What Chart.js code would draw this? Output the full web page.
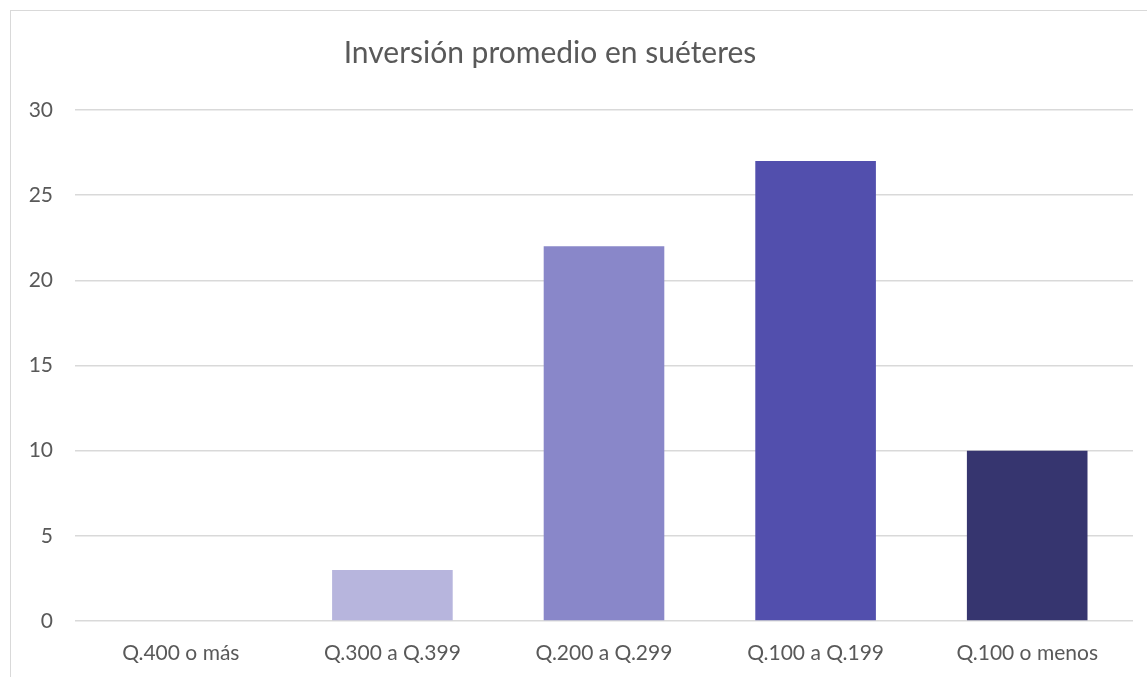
<!DOCTYPE html>
<html>
<head>
<meta charset="utf-8">
<title>Inversión promedio en suéteres</title>
<script src="https://cdn.jsdelivr.net/npm/chart.js@4/dist/chart.umd.min.js"></script>
<style>
  html, body { margin: 0; padding: 0; background: #fff; overflow: hidden; }
  #frame {
    position: absolute; left: 10px; top: 10px;
    width: 1150px; height: 680px;
    border: 1.5px solid #D9D9D9;
  }
  #wrap { position: absolute; left: 0; top: 0; width: 1147px; height: 677px; }
</style>
</head>
<body>
<div id="frame"></div>
<div id="wrap"><canvas id="sweater-chart"></canvas></div>
<script>
// spending ranges and how many answered each one
var categories = ["Q.400 o más", "Q.300 a Q.399", "Q.200 a Q.299", "Q.100 a Q.199", "Q.100 o menos"];
var counts = [0, 3, 22, 27, 10];
var barColors = ['#B7B5DD', '#B7B5DD', '#8987C9', '#524FAD', '#36356F'];
var yTicks = [0, 5, 10, 15, 20, 25, 30];

var textGray = '#595959';
var fontName = 'Lato, "Open Sans", sans-serif';

// title sits a bit left of the plot centre
var titleShift = {
    id: 'titleShift',
    afterLayout: function(chart) {
        var t = chart.titleBlock;
        if (t) {
            t.left = 0;
            t.right = 1100;
            t.width = 1100;
        }
    }
};

var ctx = document.getElementById('sweater-chart').getContext('2d');

var sweaterChart = new Chart(ctx, {
    type: 'bar',
    data: {
        labels: categories,
        datasets: [{
            data: counts,
            backgroundColor: barColors,
            borderWidth: 0,
            barPercentage: 0.57,
            categoryPercentage: 1
        }]
    },
    options: {
        responsive: true,
        maintainAspectRatio: false,
        animation: false,
        layout: {
            padding: { left: 0, right: 14, top: 0, bottom: 0 }
        },
        scales: {
            y: {
                min: 0,
                max: 30,
                border: { display: false },
                grid: {
                    color: '#D9D9D9',
                    lineWidth: 1.5,
                    drawTicks: false
                },
                afterBuildTicks: function(scale) {
                    scale.ticks = yTicks.map(function(v) { return { value: v }; });
                },
                afterFit: function(scale) {
                    scale.width = 75;
                },
                ticks: {
                    padding: 22,
                    color: textGray,
                    font: { family: fontName, size: 21 }
                }
            },
            x: {
                border: { display: false },
                grid: { display: false, drawTicks: false },
                afterFit: function(scale) {
                    scale.height = 56;
                },
                ticks: {
                    padding: 20,
                    color: textGray,
                    font: { family: fontName, size: 21 }
                }
            }
        },
        plugins: {
            legend: { display: false },
            tooltip: { enabled: false },
            title: {
                display: true,
                text: 'Inversión promedio en suéteres',
                color: textGray,
                font: { family: fontName, size: 30, weight: 'normal', lineHeight: 1.2 },
                padding: { top: 35, bottom: 39 }
            }
        }
    },
    plugins: [titleShift]
});
</script>
</body>
</html>
